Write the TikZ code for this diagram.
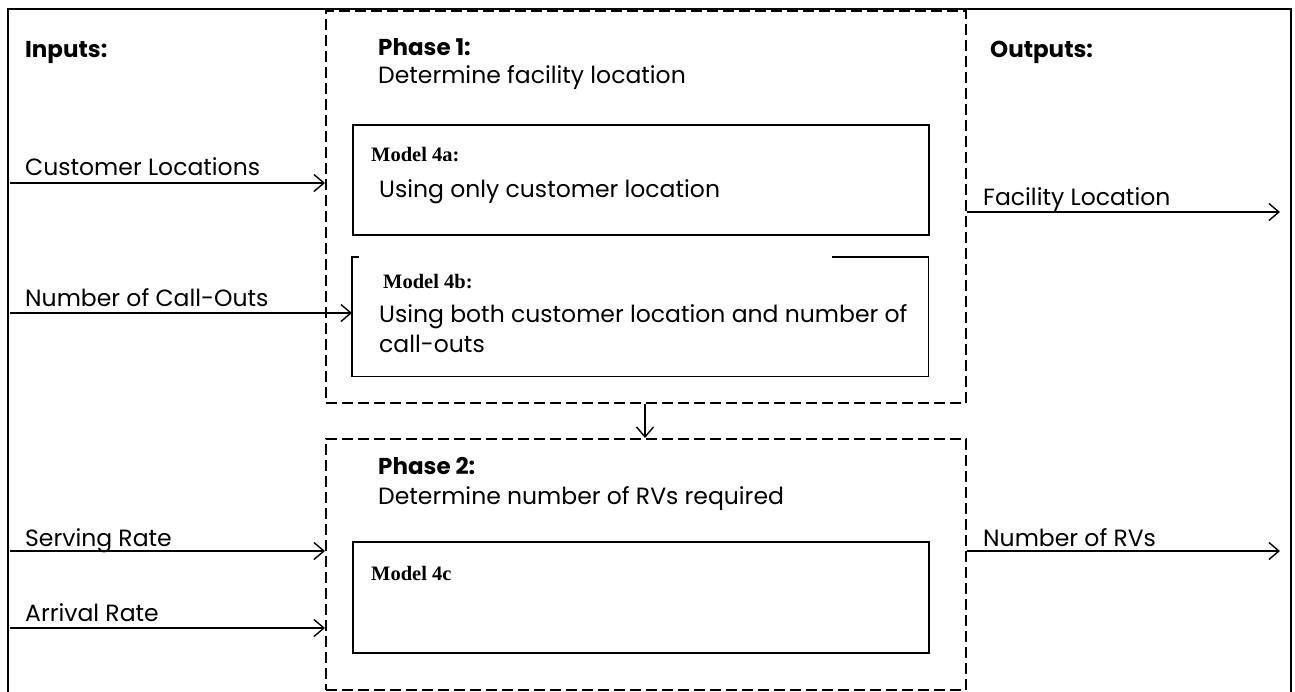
\documentclass[tikz,border=0pt]{standalone}
\usepackage{fontspec}
\setmainfont{Poppins}
\newfontfamily\modelfont{Liberation Serif}
\usetikzlibrary{arrows.meta}

\tikzset{
  frameline/.style={line width=2.2pt},
  phasebox/.style={draw, line width=1.5pt, dash pattern=on 11pt off 5pt,
    anchor=north west, inner sep=0pt},
  modelbox/.style={draw, line width=1.7pt, anchor=north west, inner sep=0pt},
  flow/.style={line width=1.4pt, -{Straight Barb[length=10pt,width=17pt,line width=1.4pt]}},
  label/.style={anchor=base west, inner sep=0pt, font=\fontsize{23.5}{28}\selectfont},
  heading/.style={label, font=\fontsize{23}{28}\selectfont\bfseries},
  modeltitle/.style={anchor=base west, inner sep=0pt,
    font=\fontsize{20.5}{25}\selectfont\modelfont\bfseries}
}

\begin{document}
\begin{tikzpicture}[x=1pt, y=-1pt]
  \useasboundingbox (0,0) rectangle (1295,691);

  % outer frame (runs past the lower edge of the page)
  \begin{scope}
    \clip (0,0) rectangle (1295,691);
    \draw[frameline] (8,700) -- (8,9) -- (1291,9) -- (1291,700);
  \end{scope}

  % column headings
  \node[heading] (inputs) at (25,57) {Inputs:};
  \node[heading] (outputs) at (990,57) {Outputs:};

  % phase 1
  \node[phasebox, minimum width=640pt, minimum height=392pt] (p1) at (325,10) {};
  \node[heading] (p1title) at (378,55) {Phase 1:};
  \node[label] (p1text) at (378,83) {Determine facility location};

  \node[modelbox, minimum width=576pt, minimum height=110pt] (m4a) at (352,124) {};
  \node[modeltitle] (m4atitle) at (371,161) {Model 4a:};
  \node[label] (m4atext) at (379,197) {Using only customer location};

  % model 4b: the top border is interrupted
  \node[anchor=north west, inner sep=0pt, minimum width=576pt, minimum height=119pt] (m4b) at (352,257) {};
  \draw[line width=1.7pt] ([xshift=7pt]m4b.north west) -- (m4b.north west)
    -- (m4b.south west) -- (m4b.south east) -- (m4b.north east)
    -- ([xshift=-96pt]m4b.north east);
  \node[modeltitle] (m4btitle) at (383,288) {Model 4b:};
  \node[label] (m4btext1) at (379,322) {Using both customer location and number of};
  \node[label] (m4btext2) at (379,352) {call-outs};

  % phase 2
  \node[phasebox, minimum width=640pt, minimum height=251pt] (p2) at (325,438) {};
  \node[heading] (p2title) at (378,474) {Phase 2:};
  \node[label] (p2text) at (378,504) {Determine number of RVs required};

  \node[modelbox, minimum width=576pt, minimum height=111pt] (m4c) at (352,541) {};
  \node[modeltitle] (m4ctitle) at (371,580) {Model 4c};

  % phase 1 feeds phase 2
  \draw[flow] (p1.south -| 645,0) -- (p2.north -| 645,0);

  % inputs
  \coordinate (inA) at (10,183);
  \coordinate (inB) at (10,313);
  \coordinate (inC) at (10,551);
  \coordinate (inD) at (10,628);
  \node[label] (lA) at (25,175) {Customer Locations};
  \node[label] (lB) at (25,306) {Number of Call-Outs};
  \node[label] (lC) at (25,546) {Serving Rate};
  \node[label] (lD) at (25,621) {Arrival Rate};
  \draw[flow] (inA) -- (inA -| p1.west);
  \draw[flow] (inB) -- (inB -| m4b.west);
  \draw[flow] (inC) -- (inC -| p2.west);
  \draw[flow] (inD) -- (inD -| p2.west);

  % outputs
  \coordinate (outA) at (1280,212);
  \coordinate (outB) at (1280,551);
  \node[label] (lE) at (983,205) {Facility Location};
  \node[label] (lF) at (983,546) {Number of RVs};
  \draw[flow] (outA -| p1.east) -- (outA);
  \draw[flow] (outB -| p2.east) -- (outB);
\end{tikzpicture}
\end{document}
